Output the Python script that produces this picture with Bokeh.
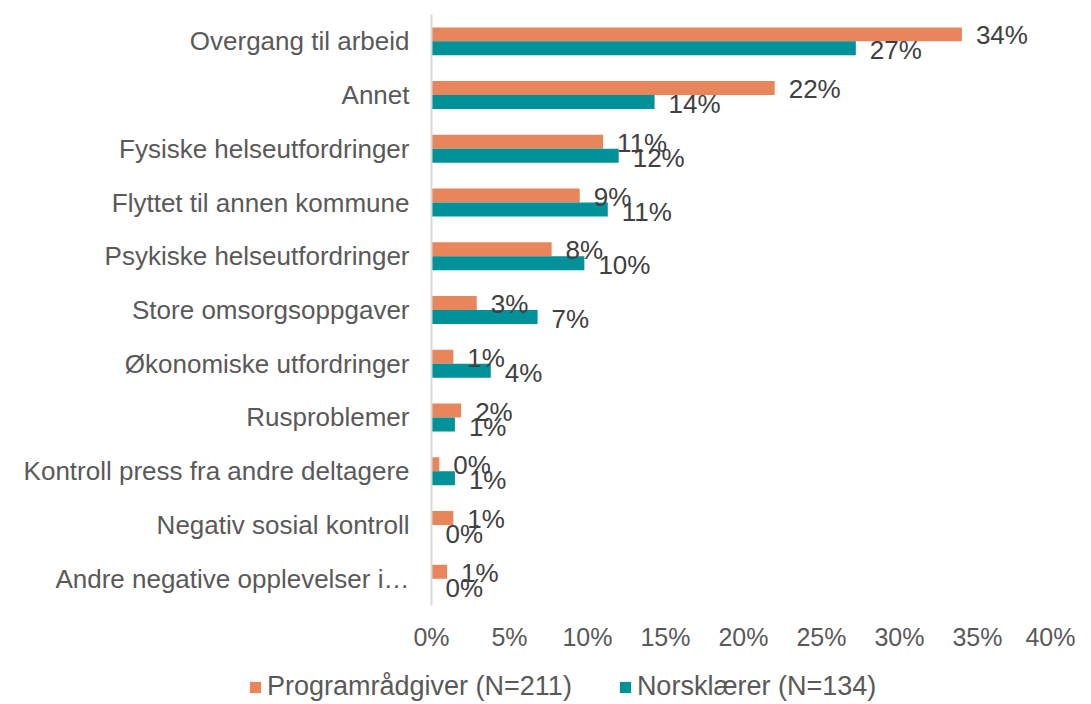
from bokeh.plotting import figure
from bokeh.layouts import column
from bokeh.models import ColumnDataSource, FactorRange, Range1d, Legend, LegendItem, FixedTicker, CustomJSTickFormatter
from bokeh.transform import dodge
from bokeh.core.properties import value
from bokeh.embed import file_html
from bokeh.resources import INLINE

categories = [
    "Overgang til arbeid",
    "Annet",
    "Fysiske helseutfordringer",
    "Flyttet til annen kommune",
    "Psykiske helseutfordringer",
    "Store omsorgsoppgaver",
    "Økonomiske utfordringer",
    "Rusproblemer",
    "Kontroll press fra andre deltagere",
    "Negativ sosial kontroll",
    "Andre negative opplevelser i…",
]
programradgiver = [34.0, 22.0, 11.0, 9.5, 7.7, 2.9, 1.4, 1.9, 0.5, 1.4, 1.0]
norsklaerer = [27.2, 14.3, 12.0, 11.3, 9.8, 6.8, 3.8, 1.5, 1.5, 0.0, 0.0]
programradgiver_labels = ["34%", "22%", "11%", "9%", "8%", "3%", "1%", "2%", "0%", "1%", "1%"]
norsklaerer_labels = ["27%", "14%", "12%", "11%", "10%", "7%", "4%", "1%", "1%", "0%", "0%"]
x_ticks = [0, 5, 10, 15, 20, 25, 30, 35, 40]
series_names = ["Programrådgiver (N=211)", "Norsklærer (N=134)"]

ORANGE = "#E9855B"
TEAL = "#009199"
FONT = "Liberation Sans"

src = ColumnDataSource(dict(
    cat=categories,
    a=programradgiver,
    b=norsklaerer,
    alab=programradgiver_labels,
    blab=norsklaerer_labels,
))

p = figure(
    width=1075, height=672,
    y_range=FactorRange(factors=list(reversed(categories))),
    x_range=Range1d(0, 40),
    output_backend="svg", toolbar_location=None,
    min_border_left=431, min_border_right=20, min_border_top=14, min_border_bottom=67,
)

ra = p.hbar(y=dodge("cat", 0.13, range=p.y_range), right="a", left=0, height=0.26,
            source=src, fill_color=ORANGE, line_color=None)
rb = p.hbar(y=dodge("cat", -0.13, range=p.y_range), right="b", left=0, height=0.26,
            source=src, fill_color=TEAL, line_color=None)

p.text(x="a", y=dodge("cat", 0.11, range=p.y_range), text="alab", source=src,
       x_offset=14, text_align="left", text_baseline="middle",
       text_font=value(FONT), text_font_size="26px", text_color="#404040")
p.text(x="b", y=dodge("cat", -0.17, range=p.y_range), text="blab", source=src,
       x_offset=14, text_align="left", text_baseline="middle",
       text_font=value(FONT), text_font_size="26px", text_color="#404040")

p.grid.visible = False
p.outline_line_color = None

xa = p.xaxis[0]
xa.ticker = FixedTicker(ticks=x_ticks)
xa.formatter = CustomJSTickFormatter(code="return tick + '%';")
xa.axis_line_color = None
xa.major_tick_line_color = None
xa.minor_tick_line_color = None
xa.major_tick_out = 0
xa.major_label_standoff = 17
xa.major_label_text_font = FONT
xa.major_label_text_font_size = "25px"
xa.major_label_text_color = "#595959"

ya = p.yaxis[0]
ya.axis_line_color = "#D9D9D9"
ya.axis_line_width = 2
ya.major_tick_line_color = None
ya.minor_tick_line_color = None
ya.major_tick_out = 0
ya.major_label_standoff = 22
ya.major_label_text_font = FONT
ya.major_label_text_font_size = "26px"
ya.major_label_text_color = "#595959"

# legend strip below the chart
lg = figure(
    width=1075, height=30, x_range=Range1d(0, 1), y_range=Range1d(0, 1),
    x_axis_type=None, y_axis_type=None,
    output_backend="svg", toolbar_location=None,
    min_border=0, min_border_left=0, min_border_right=0, min_border_top=0, min_border_bottom=0,
)
lg.grid.visible = False
lg.outline_line_color = None
# legend-only renderers (hidden), carrying the same series data
la = lg.hbar(y="a", right="a", left=0, height=0.5, source=src,
             fill_color=ORANGE, line_color=None, visible=False)
lb = lg.hbar(y="b", right="b", left=0, height=0.5, source=src,
             fill_color=TEAL, line_color=None, visible=False)

legend = Legend(
    items=[LegendItem(label=series_names[0], renderers=[la]),
           LegendItem(label=series_names[1], renderers=[lb])],
    orientation="horizontal", location=(248, 0),
    padding=0, margin=0, spacing=46, label_standoff=5,
    glyph_width=14, glyph_height=14,
    border_line_color=None, background_fill_alpha=0,
    inactive_fill_alpha=0,
    label_text_font=FONT, label_text_font_size="27px", label_text_color="#595959",
)
lg.add_layout(legend)

layout = column(p, column(lg, spacing=0), spacing=0)
open("out.html", "w").write(file_html(layout, INLINE))
